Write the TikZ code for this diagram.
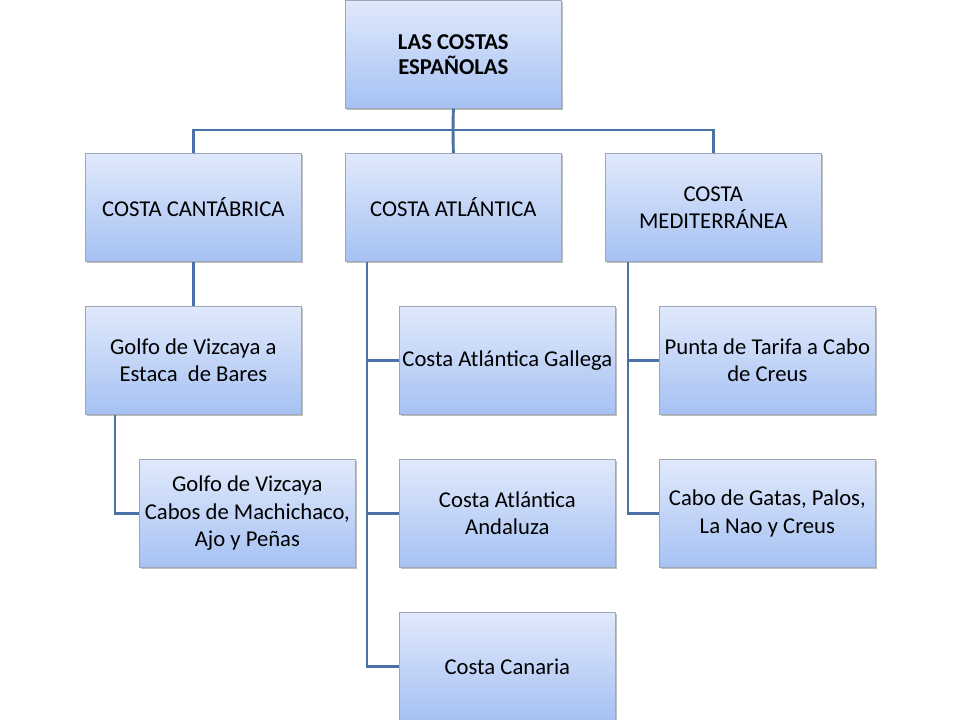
\documentclass[tikz,border=0pt]{standalone}
\usepackage{fontspec}
\setmainfont{Carlito}
\usetikzlibrary{shadows}
\definecolor{linec}{HTML}{4A72A6}
\definecolor{boxtop}{HTML}{E0E9FB}
\definecolor{boxbot}{HTML}{A6C1F3}
\definecolor{boxline}{HTML}{9CA8B8}
\tikzset{
  box/.style={draw=boxline, line width=0.5pt, top color=boxtop, bottom color=boxbot,
    minimum width=162pt, minimum height=81pt, inner sep=1pt, anchor=north west,
    align=center, font=\fontsize{17}{20.5}\selectfont, text=black,
    drop shadow={shadow xshift=1.2pt, shadow yshift=-1.2pt, opacity=0.25, fill=black}},
  topbox/.style={box, font=\fontsize{17}{18.5}\selectfont\bfseries},
  conn/.style={draw=linec, line width=2.2pt}
}
\begin{document}
\begin{tikzpicture}[x=0.75pt,y=-0.75pt]
\useasboundingbox (0,0) rectangle (960,720);
\fill[white] (0,0) rectangle (960,720);
\coordinate (bus) at (453,130);
\node[topbox] (top) at (345,0) {LAS COSTAS\\ESPAÑOLAS};
\node[box] (cant) at (85,153) {COSTA CANTÁBRICA};
\node[box] (atl) at (345,153) {COSTA ATLÁNTICA};
\node[box] (med) at (605,153) {COSTA\\MEDITERRÁNEA};
\node[box] (gve) at (85,306) {Golfo de Vizcaya a\\Estaca\ \ de Bares};
\node[box] (gvc) at (139,459) {Golfo de Vizcaya\\Cabos de Machichaco,\\Ajo y Peñas};
\node[box] (gal) at (399,306) {Costa Atlántica Gallega};
\node[box] (and) at (399,459) {Costa Atlántica\\Andaluza};
\node[box] (can) at (399,612) {Costa Canaria};
\node[box] (tar) at (659,306) {Punta de Tarifa a Cabo\\de Creus};
\node[box] (gat) at (659,459) {Cabo de Gatas, Palos,\\La Nao y Creus};
\draw[conn] (top.south) -- (bus);
\draw[conn] (cant.north) |- (bus) -| (med.north);
\draw[conn] (bus) -- (atl.north);
\draw[conn] (cant.south) -- (gve.north);
\draw[conn] ([xshift=22.5pt]gve.south west) |- (gvc.west);
\draw[conn] ([xshift=16.5pt]atl.south west) |- (gal.west);
\draw[conn] ([xshift=16.5pt]atl.south west) |- (and.west);
\draw[conn] ([xshift=16.5pt]atl.south west) |- (can.west);
\draw[conn] ([xshift=17.25pt]med.south west) |- (tar.west);
\draw[conn] ([xshift=17.25pt]med.south west) |- (gat.west);
\end{tikzpicture}
\end{document}
